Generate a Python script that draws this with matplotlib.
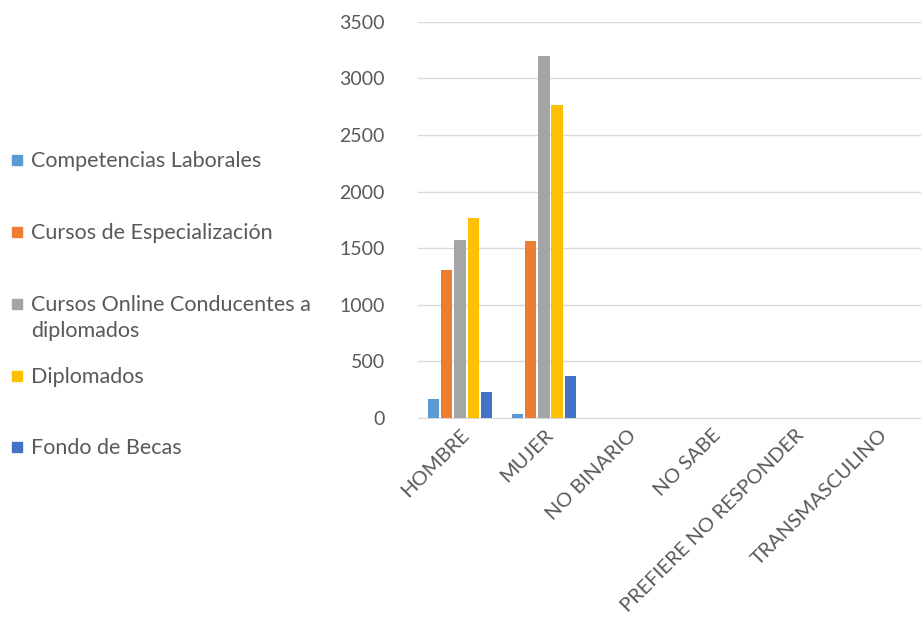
import matplotlib
matplotlib.use("Agg")
import matplotlib.pyplot as plt
import numpy as np
from matplotlib.patches import Rectangle

categories = ["HOMBRE", "MUJER", "NO BINARIO", "NO SABE", "PREFIERE NO RESPONDER", "TRANSMASCULINO"]
series_names = ["Competencias Laborales", "Cursos de Especialización",
                "Cursos Online Conducentes a\ndiplomados", "Diplomados", "Fondo de Becas"]
competencias = [170, 38, 0, 0, 0, 0]
especializacion = [1308, 1562, 0, 0, 0, 0]
online = [1571, 3200, 0, 0, 0, 0]
diplomados = [1768, 2767, 0, 0, 0, 0]
becas = [227, 369, 0, 0, 0, 0]
colors = ["#5B9BD5", "#ED7D31", "#A5A5A5", "#FFC000", "#4472C4"]

values = [competencias, especializacion, online, diplomados, becas]

plt.rcParams['font.family'] = ['Lato', 'DejaVu Sans']
fig = plt.figure(figsize=(9.21, 6.21), dpi=100)
ax = fig.add_axes([0.454, 0.327, 0.546, 0.638])

x = np.arange(len(categories))
pitch = 0.158
width = 0.136
for i, (vals, c) in enumerate(zip(values, colors)):
    ax.bar(x + (i - 2) * pitch, vals, width=width, color=c, zorder=3)

ax.set_xlim(-0.5, len(categories) - 0.5)
ax.set_ylim(0, 3500)
ax.set_yticks(np.arange(0, 3501, 500))
ax.yaxis.grid(True, color="#D9D9D9", linewidth=1, zorder=0)
for s in ["top", "right", "left"]:
    ax.spines[s].set_visible(False)
ax.spines["bottom"].set_color("#D9D9D9")
ax.tick_params(axis="both", length=0, colors="#595959")
ax.tick_params(axis="y", pad=24, labelsize=14)
ax.tick_params(axis="x", pad=6, labelsize=14.5)
ax.set_xticks(x)
ax.set_xticklabels(categories, rotation=45, ha="right", rotation_mode="anchor")

# legend
ys = [160, 232, 304, 376, 447]
H = 621.0
W = 921.0
for name, c, yp in zip(series_names, colors, ys):
    fig.patches.append(Rectangle((12 / W, 1 - (yp + 5) / H), 10 / W, 10 / H,
                                 transform=fig.transFigure, color=c))
    fig.text(31 / W, 1 - (yp - 9) / H, name, va="top",
             fontsize=15.5, color="#595959", linespacing=1.4,
             transform=fig.transFigure)

fig.savefig("out.png", dpi=100)
